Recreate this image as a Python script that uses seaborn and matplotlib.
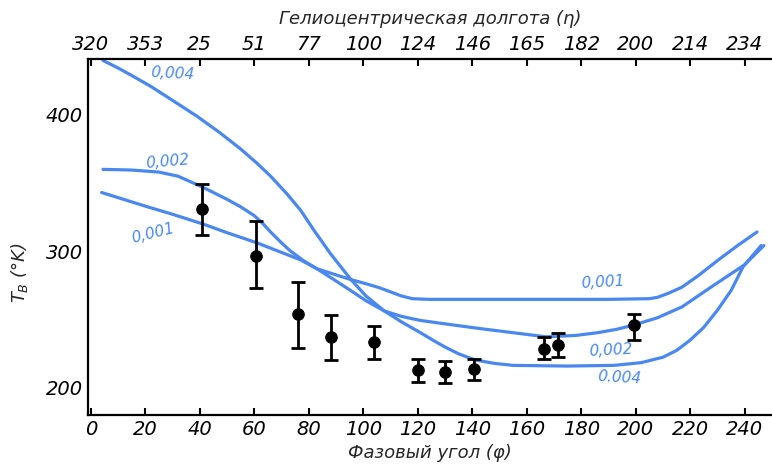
import numpy as np
import pandas as pd
import matplotlib
matplotlib.use("Agg")
import matplotlib.pyplot as plt
import seaborn as sns

# ---- данные ----
# кривые модели (фазовый угол, T_B) для трёх значений параметра
phase_001 = [4, 12, 20, 30, 41, 50, 61, 70, 77, 83, 90, 95.5, 101, 106, 110, 114, 118, 124,
             140, 165, 190, 205, 208, 212, 217, 223, 230, 237, 244.5]
tb_001 = [343, 338, 333, 327, 320, 313.5, 306, 299, 293.5, 287, 282.5, 279, 276, 273, 270, 267, 265, 264.5,
          264.5, 264.5, 264.5, 265, 266, 269, 273.5, 282, 293, 303.5, 314]

phase_002 = [4.5, 15, 25, 32, 41, 50, 55, 60, 63, 66, 70, 73, 78, 83, 90, 95, 101, 107.7, 114, 121,
             130, 143, 155, 167, 178, 186, 193, 199, 208, 217, 228, 240, 247]
tb_002 = [360, 359.5, 358, 355, 347, 338, 332.5, 326, 320.5, 314, 306, 300.5, 293, 287, 278, 271.5, 263.5, 256, 252, 249,
          246.5, 243, 240, 237, 238, 240, 242.5, 245.5, 251, 259, 274, 290, 304]

phase_004 = [4.5, 10, 15, 22, 29, 39, 47, 55, 61, 66, 72, 77, 82, 88, 95.5, 101, 107.7, 114, 121, 126,
             130, 135, 141, 148, 155, 175, 192, 202, 210, 215, 220, 225, 230, 235, 239.4, 246]
tb_004 = [440, 434.5, 429, 421, 412, 399, 387.5, 375, 364.5, 355, 342, 330, 315, 298, 279, 267, 256, 248, 240, 234,
          229.5, 224.5, 220, 217.5, 216, 215.5, 216, 218, 222, 227, 234.6, 244, 256.6, 271, 288.5, 304]

# измерения с ошибками
obs_phase = [40.8, 60.7, 76, 88.2, 104, 120, 130, 140.7, 166.3, 171.5, 199.4]
obs_tb = [331, 296, 254, 237, 233, 212.5, 211, 213, 228, 231, 246]
obs_low = [312, 273, 229, 220, 221, 204, 203, 205, 221, 222, 235]
obs_high = [349, 322, 277, 253, 245, 220.5, 219, 221, 237, 240, 254]

# верхняя шкала: гелиоцентрическая долгота
top_ticks = [0, 20, 40, 60, 80, 100, 120, 140, 160, 180, 200, 220, 240]
top_labels = ["320", "353", "25", "51", "77", "100", "124", "146", "165", "182", "200", "214", "234"]

blue = "#4a88f0"

sns.set_theme(style="white")
plt.rcParams['font.family'] = ['DejaVu Sans']
plt.rcParams['font.style'] = 'italic'

fig = plt.figure(figsize=(7.72, 4.69), dpi=100)
ax = fig.add_axes([0.114, 0.115, 0.886, 0.759])

# ====================== кривые ======================
for ph, tb in [(phase_001, tb_001), (phase_002, tb_002), (phase_004, tb_004)]:
    df = pd.DataFrame({"phase": ph, "tb": tb})
    sns.lineplot(data=df, x="phase", y="tb", sort=False, estimator=None,
                 color=blue, linewidth=2.3, ax=ax)

# ====================== точки с ошибками ======================
obs = pd.DataFrame({"phase": obs_phase, "tb": obs_tb})
yerr = np.array([np.array(obs_tb) - np.array(obs_low),
                 np.array(obs_high) - np.array(obs_tb)])
ax.errorbar(obs_phase, obs_tb, yerr=yerr, fmt="none", ecolor="black",
            elinewidth=2, capsize=5, capthick=2, zorder=3)
sns.scatterplot(data=obs, x="phase", y="tb", color="black", s=70,
                edgecolor="black", ax=ax, zorder=4)

# подписи кривых
lbl = dict(color=blue, fontsize=11, style="italic")
ax.text(30, 430, "0,004", rotation=-3, ha="center", va="center", **lbl)
ax.text(28, 366, "0,002", rotation=5, ha="center", va="center", **lbl)
ax.text(23, 313, "0,001", rotation=14, ha="center", va="center", **lbl)
ax.text(188, 277, "0,001", rotation=3, ha="center", va="center", **lbl)
ax.text(191, 227, "0,002", rotation=3, ha="center", va="center", **lbl)
ax.text(194, 207, "0.004", rotation=-3, ha="center", va="center", **lbl)

# ====================== оси ======================
ax.set_xlim(-1, 250)
ax.set_ylim(179.5, 441)
ax.set_xticks(range(0, 250, 20))
ax.set_yticks([200, 300, 400])
ax.tick_params(direction="in", length=5, width=1.5, labelsize=14, colors="black")
for s in ["left", "bottom", "top"]:
    ax.spines[s].set_linewidth(1.6)
    ax.spines[s].set_color("black")
ax.spines["right"].set_visible(False)
ax.set_xlabel("Фазовый угол (φ)", fontsize=13)
ax.set_ylabel("$T_B$ (°K)", fontsize=13)
ax.yaxis.set_label_coords(-0.085, 0.40)

ax2 = ax.twiny()
ax2.set_xlim(ax.get_xlim())
ax2.set_xticks(top_ticks)
ax2.set_xticklabels(top_labels)
ax2.tick_params(direction="in", length=5, width=1.5, labelsize=14, colors="black")
for s in ax2.spines.values():
    s.set_visible(False)
ax2.set_xlabel("Гелиоцентрическая долгота (η)", fontsize=13, labelpad=8)

fig.savefig("out.png", dpi=100)
